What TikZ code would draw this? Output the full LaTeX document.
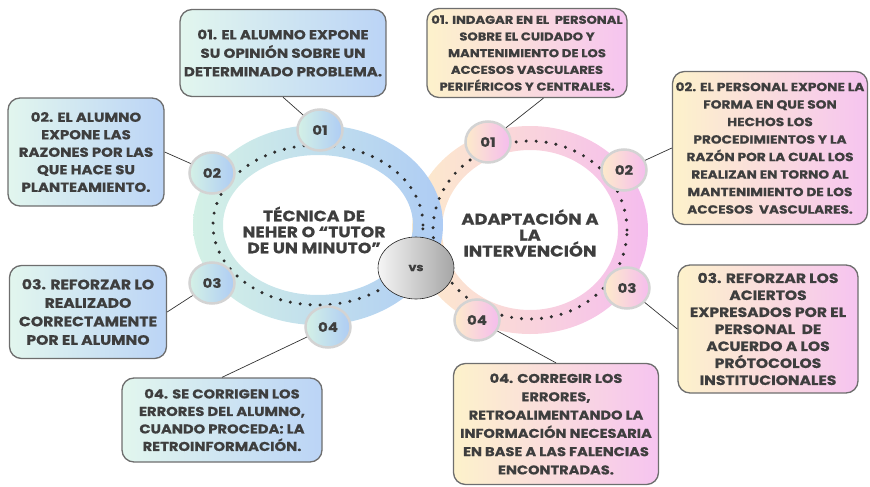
\documentclass[tikz,border=0pt]{standalone}
\usepackage{fontspec}
\setmainfont{Poppins}[BoldFont={Poppins Bold}, BoldFeatures={FakeStretch=1.15, FakeBold=0.6}]
\usetikzlibrary{shapes.geometric,positioning}
\definecolor{txt}{HTML}{3E3E3E}
\definecolor{edgegray}{HTML}{6E6E6E}
\definecolor{mint}{HTML}{E2F6EE}
\definecolor{sky}{HTML}{BBD4F6}
\definecolor{cream}{HTML}{FDF2CB}
\definecolor{rose}{HTML}{F6C4F0}
\definecolor{ringmint}{HTML}{D4F1E6}
\definecolor{ringsky}{HTML}{AECCF4}
\definecolor{ringcream}{HTML}{FDEBCB}
\definecolor{ringrose}{HTML}{F5BCEE}
\definecolor{badgegray}{HTML}{D3D3D3}
\definecolor{dotc}{HTML}{2E2E2E}
\newcommand{\boxfont}[2]{\bfseries\fontsize{#1}{#2}\selectfont}

\begin{document}
\begin{tikzpicture}[x=1pt,y=-1pt]
\tikzstyle{box}=[draw=edgegray, line width=1.3pt, rounded corners=12pt, align=center, text=txt, inner sep=0pt]
\tikzstyle{tutorbox}=[box, left color=mint, right color=sky]
\tikzstyle{adaptbox}=[box, left color=cream, right color=rose]
\tikzstyle{badge}=[ellipse, minimum width=45pt, minimum height=41pt, draw=badgegray, line width=2.5pt, text=txt, inner sep=0pt, font=\boxfont{13}{13}]
\tikzstyle{tutorbadge}=[badge, left color=ringmint, right color=ringsky]
\tikzstyle{adaptbadge}=[badge, left color=ringcream, right color=ringrose]
\tikzstyle{dots}=[dotc, line width=3.4pt, line cap=round, dash pattern=on 0pt off 10pt]
\tikzstyle{title}=[text=txt, align=center]
\tikzstyle{link}=[draw=black!80, line width=0.7pt]

\useasboundingbox (0,0) rectangle (870,487);

% rings
\path[even odd rule, left color=ringcream, right color=ringrose] (530,230) ellipse [x radius=118pt, y radius=104pt] (530,230) ellipse [x radius=88pt, y radius=80pt];
\path[even odd rule, left color=ringmint, right color=ringsky] (318,225) ellipse [x radius=125pt, y radius=100pt] (318,225) ellipse [x radius=95pt, y radius=70pt];
\draw[dots] (530,230) ellipse [x radius=97pt, y radius=89pt];
\draw[dots] (318,225) ellipse [x radius=105pt, y radius=80pt];

% titles
\node[title, font=\boxfont{15}{16}] (tutor) at (314,230) {TÉCNICA DE\\NEHER O “TUTOR\\DE UN MINUTO"};
\node[title, font=\boxfont{15.5}{16}] (adapt) at (530,233) {ADAPTACIÓN A\\LA\\INTERVENCIÓN};
\node[ellipse, minimum width=76pt, minimum height=62pt, draw=black!85, line width=0.6pt, left color=white!96!black, right color=black!35, text=txt, font=\boxfont{11}{11}] (vs) at (416,268) {vs};

% badges
\node[tutorbadge] (t1) at (320,130) {01};
\node[tutorbadge] (t2) at (212,173) {02};
\node[tutorbadge] (t3) at (212,283) {03};
\node[tutorbadge] (t4) at (328,327) {04};
\node[adaptbadge] (a1) at (488,142) {01};
\node[adaptbadge] (a2) at (624,170) {02};
\node[adaptbadge] (a3) at (627,288) {03};
\node[adaptbadge] (a4) at (477,320) {04};

% boxes
\node[tutorbox, minimum width=206pt, minimum height=87pt, font=\boxfont{13.1}{18.5}] (tb1) at (283,53) {01. EL ALUMNO EXPONE\\SU OPINIÓN SOBRE UN\\DETERMINADO PROBLEMA.};
\node[tutorbox, minimum width=156pt, minimum height=108pt, font=\boxfont{13}{17.5}] (tb2) at (86,152) {02. EL ALUMNO\\EXPONE LAS\\RAZONES POR LAS\\QUE HACE SU\\PLANTEAMIENTO.};
\node[tutorbox, minimum width=157pt, minimum height=93pt, font=\boxfont{13.6}{18.5}] (tb3) at (88,312) {03. REFORZAR LO\\REALIZADO\\CORRECTAMENTE\\POR EL ALUMNO};
\node[tutorbox, minimum width=200pt, minimum height=84pt, font=\boxfont{12.8}{17.5}] (tb4) at (222,420) {04. SE CORRIGEN LOS\\ERRORES DEL ALUMNO,\\CUANDO PROCEDA: LA\\RETROINFORMACIÓN.};
\node[adaptbox, minimum width=200pt, minimum height=89pt, font=\boxfont{11.4}{16.7}] (ab1) at (527,53) {01. INDAGAR EN EL\ \ PERSONAL\\SOBRE EL CUIDADO Y\\MANTENIMIENTO DE LOS\\ACCESOS VASCULARES\\PERIFÉRICOS Y CENTRALES.};
\node[adaptbox, minimum width=195pt, minimum height=153pt, font=\boxfont{11.9}{17.5}] (ab2) at (770,148) {02. EL PERSONAL EXPONE LA\\FORMA EN QUE SON\\HECHOS LOS\\PROCEDIMIENTOS Y LA\\RAZÓN POR LA CUAL LOS\\REALIZAN EN TORNO AL\\MANTENIMIENTO DE LOS\\ACCESOS\ \ VASCULARES.};
\node[adaptbox, minimum width=180pt, minimum height=128pt, font=\boxfont{13.5}{17}] (ab3) at (768,329) {03. REFORZAR LOS\\ACIERTOS\\EXPRESADOS POR EL\\PERSONAL\ \ DE\\ACUERDO A LOS\\PRÓTOCOLOS\\INSTITUCIONALES};
\node[adaptbox, minimum width=205pt, minimum height=121pt, font=\boxfont{12.7}{18.3}] (ab4) at (556,424) {04. CORREGIR LOS\\ERRORES,\\RETROALIMENTANDO LA\\INFORMACIÓN NECESARIA\\EN BASE A LAS FALENCIAS\\ENCONTRADAS.};

% links
\draw[link] (tb1.south) -- (t1);
\draw[link] (tb2.east) -- (t2);
\draw[link] (tb3.east) -- (t3);
\draw[link] (tb4.north) -- (t4);
\draw[link] (ab1.290) -- (a1);
\draw[link] (ab2.west) -- (a2);
\draw[link] (ab3.west) -- (a3);
\draw[link] (ab4.north) -- (a4);
\end{tikzpicture}
\end{document}
